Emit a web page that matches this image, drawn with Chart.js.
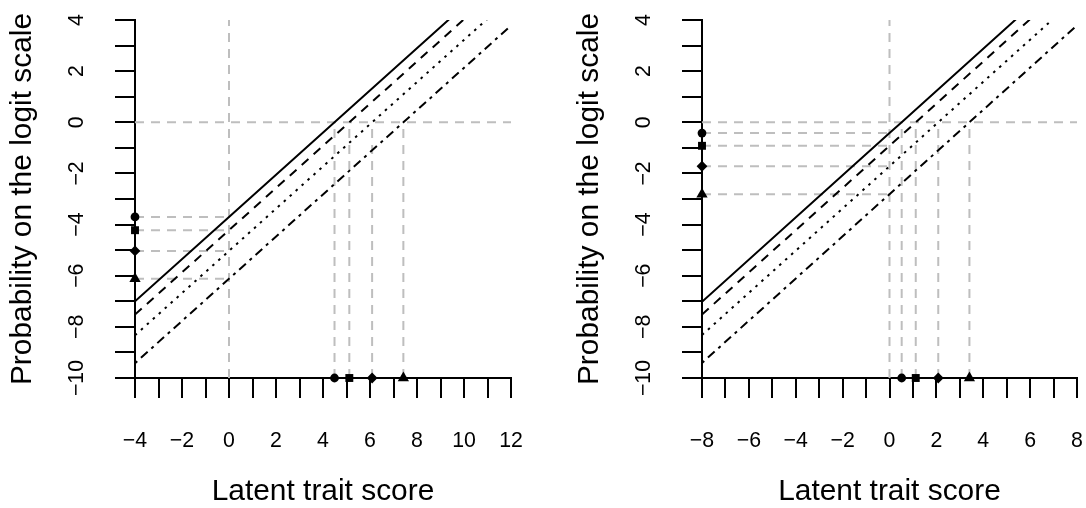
<!DOCTYPE html>
<html>
<head>
<meta charset="utf-8">
<title>Latent trait score vs logit</title>
<script src="https://cdn.jsdelivr.net/npm/chart.js@4.4.1/dist/chart.umd.min.js"></script>
<style>
  html, body { margin: 0; padding: 0; background: #fff; }
  #wrap { position: relative; width: 1086px; height: 508px; }
  .panel { position: absolute; top: 0; width: 543px; height: 508px; }
</style>
</head>
<body>
<div id="wrap">
  <div class="panel" style="left:0"><canvas id="panel-left" width="543" height="508"></canvas></div>
  <div class="panel" style="left:543px"><canvas id="panel-right" width="543" height="508"></canvas></div>
</div>
<script>
// Four items, same order everywhere: solid, dashed, dotted, dot-dash

// ---- left panel ----
const leftXTicks = [-4, -2, 0, 2, 4, 6, 8, 10, 12];
const leftAtZero = [-3.70, -4.22, -5.03, -6.12];     // logit at trait = 0
const leftCrossing = [4.49, 5.12, 6.09, 7.42];       // trait where logit = 0
const leftLineStart = [-7.00, -7.52, -8.33, -9.42];  // logit at trait = -4
const leftLineEnd = [6.20, 5.68, 4.87, 3.78];        // logit at trait = 12

// ---- right panel ----
const rightXTicks = [-8, -6, -4, -2, 0, 2, 4, 6, 8];
const rightAtZero = [-0.42, -0.92, -1.72, -2.81];
const rightCrossing = [0.52, 1.12, 2.08, 3.41];
const rightLineStart = [-7.02, -7.52, -8.32, -9.41]; // logit at trait = -8
const rightLineEnd = [6.18, 5.68, 4.88, 3.79];       // logit at trait = 8

const yTicks = [4, 2, 0, -2, -4, -6, -8, -10];
const Y_MIN = -10, Y_MAX = 4;

// styles
const curveDash = [[], [9, 7], [2.5, 5.5], [3, 5, 9, 5]];
const markerStyle = ['circle', 'rect', 'rectRot', 'triangle'];
const markerRadius = [4.4, 5.6, 5.4, 6.5];
const GREY = '#bebebe';
const FONT = "'Liberation Sans', Arial, Helvetica, sans-serif";
const TICK_SIZE = 21.3;
const TITLE_SIZE = 29.9;

const fmt = v => String(v).replace('-', '\u2212');

function greyLine(points) {
    return {
        data: points, showLine: true, pointRadius: 0,
        borderColor: GREY, borderWidth: 2, borderDash: [9, 7], order: 2
    };
}

function buildDatasets(p) {
    const sets = [];
    // reference lines
    sets.push(greyLine([{ x: 0, y: Y_MIN }, { x: 0, y: Y_MAX }]));
    sets.push(greyLine([{ x: p.xMin, y: 0 }, { x: p.xMax, y: 0 }]));
    p.atZero.forEach((yv, i) => {
        sets.push(greyLine([{ x: p.xMin, y: yv }, { x: 0, y: yv }]));
        sets.push(greyLine([{ x: p.crossing[i], y: Y_MIN }, { x: p.crossing[i], y: 0 }]));
    });
    // item curves
    p.atZero.forEach((yv, i) => {
        sets.push({
            data: [
                { x: p.xMin, y: p.lineStart[i] },
                { x: 0, y: yv },
                { x: p.crossing[i], y: 0 },
                { x: p.xMax, y: p.lineEnd[i] }
            ],
            showLine: true, pointRadius: 0,
            borderColor: '#000', borderWidth: 2, borderDash: curveDash[i],
            borderCapStyle: 'butt', order: 1
        });
    });
    // markers sitting on the two axes
    p.atZero.forEach((yv, i) => {
        sets.push({
            data: [{ x: p.xMin, y: yv }, { x: p.crossing[i], y: Y_MIN }],
            pointStyle: markerStyle[i], pointRadius: markerRadius[i],
            pointBackgroundColor: '#000', pointBorderWidth: 0,
            clip: false, order: 0
        });
    });
    return sets;
}

function makePanel(p) {
    const ctx = document.getElementById(p.canvas);
    const tickGrid = { drawOnChartArea: false, drawTicks: true, tickLength: 20, color: '#000', lineWidth: 2 };
    new Chart(ctx, {
        type: 'scatter',
        data: { datasets: buildDatasets(p) },
        options: {
            responsive: false,
            animation: false,
            events: [],
            layout: { padding: { left: 0, top: 20, right: p.padRight, bottom: 0 } },
            plugins: { legend: { display: false }, tooltip: { enabled: false } },
            scales: {
                x: {
                    type: 'linear', min: p.xMin, max: p.xMax,
                    grid: tickGrid,
                    border: { display: true, color: '#000', width: 2 },
                    ticks: {
                        stepSize: 1, autoSkip: false, maxRotation: 0, padding: 30,
                        color: '#000', font: { family: FONT, size: TICK_SIZE },
                        callback: v => p.xTicks.includes(v) ? fmt(v) : ''
                    },
                    title: {
                        display: true, text: 'Latent trait score', color: '#000',
                        font: { family: FONT, size: TITLE_SIZE }, padding: { top: 0, bottom: -2 }
                    },
                    afterFit: s => {
                        s.height = 130;
                        s.paddingLeft = 0; s.paddingRight = 0;
                    }
                },
                y: {
                    type: 'linear', min: Y_MIN, max: Y_MAX,
                    grid: tickGrid,
                    border: { display: true, color: '#000', width: 2 },
                    ticks: {
                        stepSize: 1, autoSkip: false, minRotation: 90, maxRotation: 90,
                        crossAlign: 'center', padding: 20,
                        color: '#000', font: { family: FONT, size: TICK_SIZE },
                        callback: v => yTicks.includes(v) ? fmt(v) : ''
                    },
                    title: {
                        display: true, text: 'Probability on the logit scale', color: '#000',
                        font: { family: FONT, size: TITLE_SIZE }, padding: { top: p.titlePad, bottom: 0 }
                    },
                    afterFit: s => {
                        s.width = p.yAxisWidth;
                        s.paddingTop = 0; s.paddingBottom = 0;
                    }
                }
            }
        }
    });
}

makePanel({
    canvas: 'panel-left', xMin: -4, xMax: 12, xTicks: leftXTicks,
    yAxisWidth: 135, padRight: 32, titlePad: 4.7,
    atZero: leftAtZero, crossing: leftCrossing,
    lineStart: leftLineStart, lineEnd: leftLineEnd
});

makePanel({
    canvas: 'panel-right', xMin: -8, xMax: 8, xTicks: rightXTicks,
    yAxisWidth: 159, padRight: 9, titlePad: 28.7,
    atZero: rightAtZero, crossing: rightCrossing,
    lineStart: rightLineStart, lineEnd: rightLineEnd
});
</script>
</body>
</html>
